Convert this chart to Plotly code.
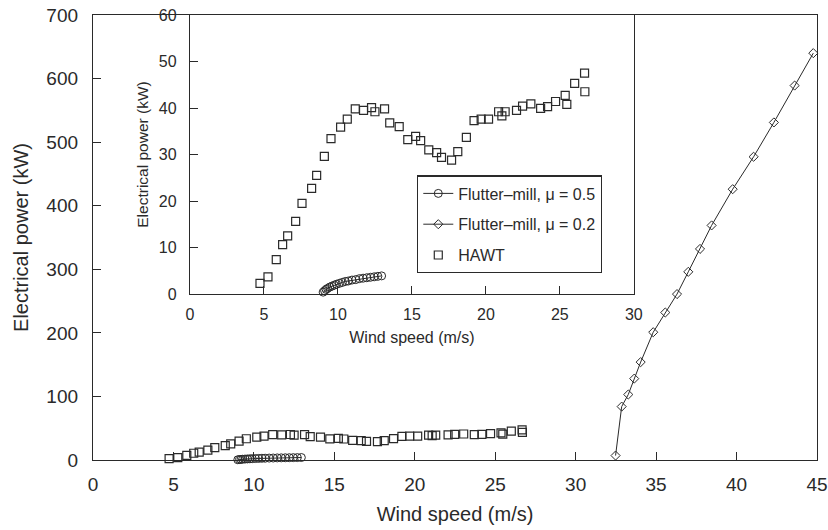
import plotly.graph_objects as go

# Flutter-mill, mu = 0.5
mu05_speed = [9.0, 9.1, 9.2, 9.3, 9.45, 9.6, 9.75, 9.9, 10.1, 10.3, 10.5,
              10.7, 10.95, 11.2, 11.45, 11.7, 11.95, 12.2, 12.45, 12.7, 12.95]
mu05_power = [0.4, 0.7, 1.0, 1.2, 1.5, 1.7, 1.9, 2.1, 2.3, 2.5, 2.7,
              2.8, 3.0, 3.1, 3.3, 3.4, 3.5, 3.6, 3.7, 3.8, 3.9]

# Flutter-mill, mu = 0.2
mu02_speed = [32.48, 32.86, 33.27, 33.64, 34.04, 34.82, 35.57, 36.3,
              37.0, 37.73, 38.45, 39.76, 41.06, 42.32, 43.61, 44.77]
mu02_power = [7, 84, 103, 128, 154, 201, 232, 261,
              296, 332, 369, 426, 477, 531, 589, 640]

# Horizontal-axis wind turbine
hawt_speed = [4.73, 5.27, 5.83, 6.26, 6.6, 7.14, 7.57, 8.22, 8.56, 9.08,
              9.53, 10.18, 10.63, 11.17, 11.73, 12.27, 12.5, 13.15, 13.5,
              14.14, 14.72, 15.25, 15.59, 16.14, 16.67, 17.0, 17.68, 18.1,
              18.68, 19.2, 19.68, 20.18, 20.86, 21.08, 21.3, 22.07, 22.48,
              23.04, 23.7, 24.17, 24.71, 25.36, 25.47, 26.0, 26.67, 26.69]
hawt_power = [2.3, 3.7, 7.4, 10.6, 12.5, 15.6, 19.5, 22.7, 25.5, 29.6,
              33.4, 35.9, 37.6, 39.8, 39.5, 40.1, 39.2, 39.8, 36.8,
              36.0, 33.2, 33.9, 33.0, 31.0, 30.4, 29.4, 28.8, 30.6,
              33.7, 37.3, 37.6, 37.6, 39.2, 38.3, 39.2, 39.5, 40.4,
              40.9, 39.9, 40.3, 41.4, 42.7, 40.8, 45.3, 47.5, 43.5]

main_xticks = [0, 5, 10, 15, 20, 25, 30, 35, 40, 45]
main_yticks = [0, 100, 200, 300, 400, 500, 600, 700]
inset_xticks = [0, 5, 10, 15, 20, 25, 30]
inset_yticks = [0, 10, 20, 30, 40, 50, 60]

INK = "#2a2a2a"
FONT = "Liberation Sans, Arial, Helvetica, sans-serif"

fig = go.Figure()

for xa, ya, show in (("x", "y", True), ("x2", "y2", False)):
    fig.add_trace(go.Scatter(
        x=mu05_speed, y=mu05_power, xaxis=xa, yaxis=ya,
        mode="lines+markers", name="Flutter\u2013mill, \u03bc = 0.5",
        legendgroup="mu05", legendrank=1,
        line=dict(color=INK, width=1),
        marker=dict(symbol="circle-open", size=8, color=INK, line=dict(width=1)),
        showlegend=show, cliponaxis=False))
    if show:
        fig.add_trace(go.Scatter(
            x=mu02_speed, y=mu02_power, xaxis=xa, yaxis=ya,
            mode="lines+markers", name="Flutter\u2013mill, \u03bc = 0.2",
            legendgroup="mu02", legendrank=2,
            line=dict(color=INK, width=1),
            marker=dict(symbol="diamond-open", size=7, color=INK, line=dict(width=1)),
            showlegend=show, cliponaxis=False))
    fig.add_trace(go.Scatter(
        x=hawt_speed, y=hawt_power, xaxis=xa, yaxis=ya,
        mode="markers", name="HAWT",
        legendgroup="hawt", legendrank=3,
        marker=dict(symbol="square-open", size=8, color=INK, line=dict(width=1.2)),
        showlegend=show, cliponaxis=False))

axis_common = dict(showline=True, linecolor=INK, linewidth=1.3, mirror=True,
                   ticks="inside", ticklen=8, tickwidth=1.3, tickcolor=INK,
                   showgrid=False, zeroline=False, automargin=False)

fig.update_layout(
    width=828, height=530,
    margin=dict(l=93, r=11, t=15, b=70),
    paper_bgcolor="white", plot_bgcolor="white",
    font=dict(family=FONT, color=INK),
    xaxis=dict(domain=[0, 1], range=[0, 45], tickvals=main_xticks,
               tickfont=dict(size=19), ticklabelstandoff=7,
               title=dict(text="Wind speed (m/s)", font=dict(size=20), standoff=13),
               **axis_common),
    yaxis=dict(domain=[0, 1], range=[0, 700], tickvals=main_yticks,
               tickfont=dict(size=19), ticklabelstandoff=10,
               title=dict(text="Electrical power (kW)", font=dict(size=20), standoff=12),
               **axis_common),
    xaxis2=dict(domain=[0.134, 0.747], range=[0, 30], tickvals=inset_xticks,
                anchor="y2", tickfont=dict(size=16), ticklabelstandoff=6,
                title=dict(text="Wind speed (m/s)", font=dict(size=16), standoff=9),
                **axis_common),
    yaxis2=dict(domain=[0.373, 1], range=[0, 60], tickvals=inset_yticks,
                anchor="x2", tickfont=dict(size=16), ticklabelstandoff=9,
                title=dict(text="Electrical power (kW)", font=dict(size=15.5), standoff=6),
                **axis_common),
    legend=dict(x=0.4475, y=0.640, xanchor="left", yanchor="top",
                bgcolor="white", bordercolor=INK, borderwidth=1.3,
                font=dict(size=16, color=INK), tracegroupgap=7,
                traceorder="grouped"),
)

fig.write_html("out.html")
